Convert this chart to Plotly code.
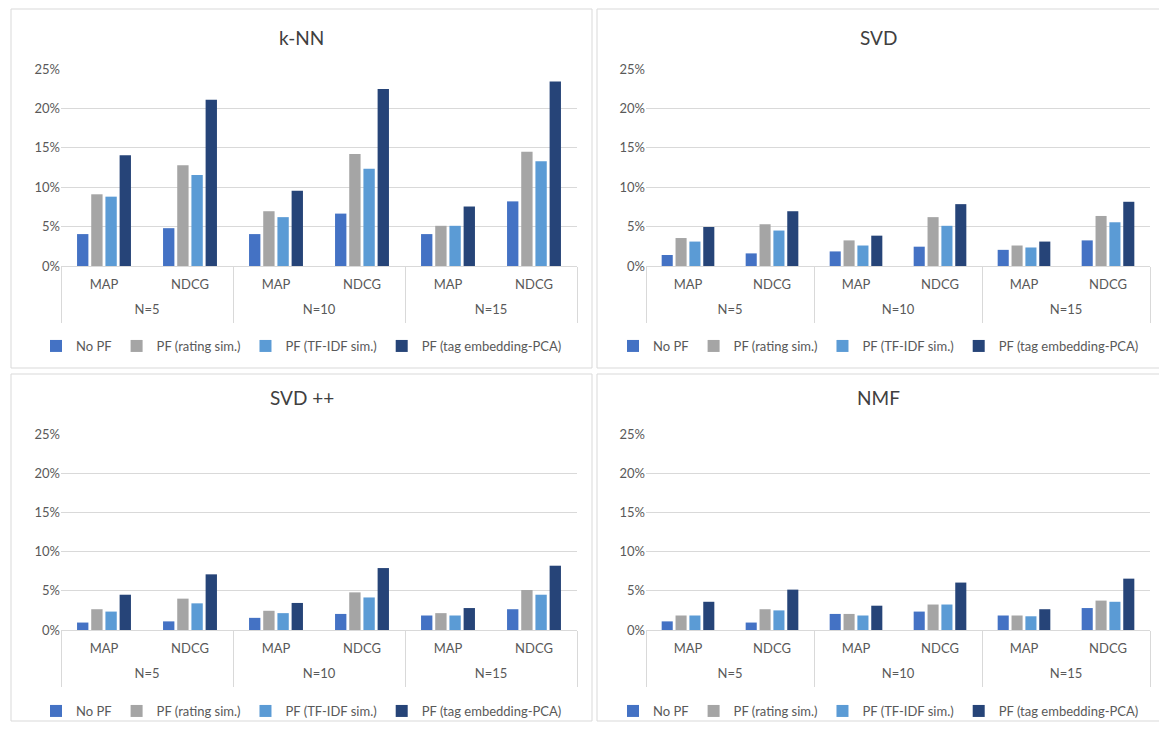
import plotly.graph_objects as go

# ---- data (values in %) ----
groups = ["N=5", "N=5", "N=10", "N=10", "N=15", "N=15"]
metrics = ["MAP", "NDCG", "MAP", "NDCG", "MAP", "NDCG"]
group_labels = ["N=5", "N=10", "N=15"]
series_names = ["No PF", "PF (rating sim.)", "PF (TF-IDF sim.)", "PF (tag embedding-PCA)"]
panel_titles = ["k-NN", "SVD", "SVD ++", "NMF"]

knn_no_pf = [4.05, 4.8, 4.05, 6.65, 4.05, 8.2]
knn_rating = [9.1, 12.8, 6.95, 14.2, 5.1, 14.5]
knn_tfidf = [8.8, 11.55, 6.2, 12.35, 5.1, 13.3]
knn_tag = [14.05, 21.1, 9.55, 22.45, 7.55, 23.4]

svd_no_pf = [1.4, 1.6, 1.85, 2.45, 2.05, 3.25]
svd_rating = [3.55, 5.3, 3.25, 6.2, 2.6, 6.35]
svd_tfidf = [3.1, 4.5, 2.6, 5.1, 2.35, 5.55]
svd_tag = [4.95, 6.95, 3.85, 7.85, 3.1, 8.15]

svdpp_no_pf = [0.95, 1.1, 1.55, 2.05, 1.85, 2.65]
svdpp_rating = [2.65, 4.0, 2.45, 4.8, 2.15, 5.1]
svdpp_tfidf = [2.35, 3.4, 2.15, 4.15, 1.85, 4.5]
svdpp_tag = [4.5, 7.1, 3.45, 7.9, 2.8, 8.2]

nmf_no_pf = [1.1, 0.95, 2.05, 2.35, 1.85, 2.8]
nmf_rating = [1.85, 2.65, 2.05, 3.25, 1.85, 3.75]
nmf_tfidf = [1.85, 2.5, 1.85, 3.25, 1.75, 3.6]
nmf_tag = [3.6, 5.15, 3.1, 6.05, 2.65, 6.55]

y_ticks = [0, 5, 10, 15, 20, 25]
y_tick_text = ["0%", "5%", "10%", "15%", "20%", "25%"]

panels = [
    [knn_no_pf, knn_rating, knn_tfidf, knn_tag],
    [svd_no_pf, svd_rating, svd_tfidf, svd_tag],
    [svdpp_no_pf, svdpp_rating, svdpp_tfidf, svdpp_tag],
    [nmf_no_pf, nmf_rating, nmf_tfidf, nmf_tag],
]

colors = ["#4472C4", "#A5A5A5", "#5B9BD5", "#264478"]

cat_ids = [f"{g} {m}" for g, m in zip(groups, metrics)]
n_cat = len(cat_ids)
group_centers = [0.5, 2.5, 4.5]
group_edges = [-0.5, 1.5, 3.5, 5.5]

OFF = 8  # page body margin
W, H = 1157, 720
FONT = "Lato"
TXT = "#595959"
GRID = "#D9D9D9"

# layout geometry in window pixels
plot_x = [(61, 577), (646, 1150), (61, 577), (646, 1150)]
plot_y = [(69, 266), (69, 266), (434, 630), (434, 630)]
boxes = [(11, 9, 592, 368), (597, 9, 1160, 368), (11, 374, 592, 721), (597, 374, 1160, 721)]
title_y = [38, 38, 397, 397]
legend_y = [346, 346, 711, 711]


def px_x(v):
    return (v - OFF) / W


def px_y(v):
    return 1 - (v - OFF) / H


fig = go.Figure()
layout = {}
annotations = []
shapes = []

for p, data in enumerate(panels):
    sfx = "" if p == 0 else str(p + 1)
    gsfx = str(p + 5)
    leg = "legend" if p == 0 else f"legend{p + 1}"
    for s, vals in enumerate(data):
        fig.add_trace(go.Bar(
            x=cat_ids,
            y=vals,
            name=series_names[s],
            marker=dict(color=colors[s], line=dict(width=0)),
            xaxis="x" + sfx,
            yaxis="y" + sfx,
            legend=leg,
        ))
    # empty carrier so that the group-level axis gets drawn
    fig.add_trace(go.Scatter(
        x=group_centers, y=[0] * len(group_centers), mode="none",
        xaxis="x" + gsfx, yaxis="y" + sfx, showlegend=False, hoverinfo="skip",
    ))
    x0, x1 = plot_x[p]
    y0, y1 = plot_y[p]
    dom = [px_x(x0), px_x(x1)]
    layout["xaxis" + sfx] = dict(
        type="category",
        domain=dom,
        anchor="y" + sfx,
        range=[-0.5, n_cat - 0.5],
        tickvals=cat_ids, ticktext=metrics,
        showline=True, linecolor=GRID, linewidth=1,
        tickfont=dict(family=FONT, size=13, color=TXT),
        ticklabelstandoff=6,
        ticks="", showgrid=False, zeroline=False,
    )
    # group-level axis (N=...) with divider lines drawn as minor ticks
    layout["xaxis" + gsfx] = dict(
        type="linear",
        domain=dom,
        anchor="y" + sfx,
        overlaying="x" + sfx,
        range=[-0.5, n_cat - 0.5],
        tickvals=group_centers, ticktext=group_labels,
        tickfont=dict(family=FONT, size=13, color=TXT),
        ticklabelstandoff=34,
        ticks="", showline=False, showgrid=False, zeroline=False,
        minor=dict(tickvals=group_edges, ticks="outside", ticklen=56,
                   tickcolor=GRID, tickwidth=1, showgrid=False),
        fixedrange=True,
    )
    layout["yaxis" + sfx] = dict(
        domain=[px_y(y1), px_y(y0)],
        anchor="x" + sfx,
        range=[0, 25],
        tickvals=y_ticks, ticktext=y_tick_text,
        showgrid=True, gridcolor=GRID, gridwidth=1,
        zeroline=False, showline=False, ticks="",
        tickfont=dict(family=FONT, size=13, color=TXT),
    )
    bx0, by0, bx1, by1 = boxes[p]
    shapes.append(dict(
        type="rect", xref="paper", yref="paper",
        x0=px_x(bx0), x1=px_x(bx1), y0=px_y(by1), y1=px_y(by0),
        line=dict(color=GRID, width=1), fillcolor="rgba(0,0,0,0)", layer="below",
    ))
    annotations.append(dict(
        text=panel_titles[p], xref="paper", yref="paper",
        x=px_x((bx0 + bx1) / 2), y=px_y(title_y[p]),
        xanchor="center", yanchor="middle", showarrow=False,
        font=dict(family=FONT, size=19, color="#404040"),
    ))
    layout[leg] = dict(
        orientation="h", x=px_x((bx0 + bx1) / 2), y=px_y(legend_y[p]),
        xanchor="center", yanchor="middle",
        font=dict(family=FONT, size=13, color=TXT),
        bgcolor="rgba(0,0,0,0)", itemwidth=30, traceorder="normal",
        itemclick=False, tracegroupgap=0,
    )

fig.update_layout(
    width=W, height=H,
    margin=dict(l=0, r=0, t=0, b=0, autoexpand=False),
    paper_bgcolor="white", plot_bgcolor="white",
    barmode="group", bargap=0.34, bargroupgap=0.2,
    showlegend=True,
    annotations=annotations, shapes=shapes,
    **layout,
)

fig.write_html("out.html")
